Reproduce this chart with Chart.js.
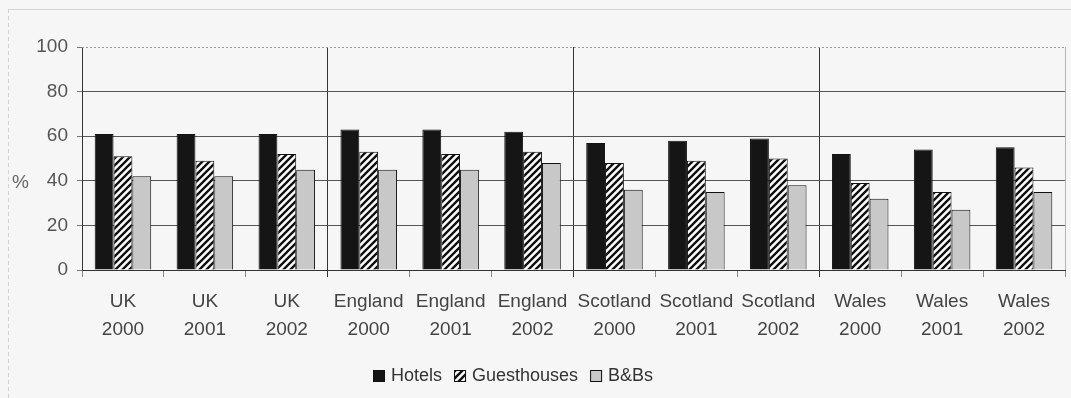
<!DOCTYPE html>
<html>
<head>
<meta charset="utf-8">
<title>Occupancy by accommodation type</title>
<script src="https://cdn.jsdelivr.net/npm/chart.js@4/dist/chart.umd.min.js"></script>
<style>
    html, body { margin: 0; padding: 0; background: #f6f6f6; }
    #wrap { width: 1071px; height: 398px; }
</style>
</head>
<body>
<div id="wrap"><canvas id="occupancyChart" width="1071" height="398"></canvas></div>
<script>
// 類別（地區 + 年份）
const categories = [
    ['UK', '2000'], ['UK', '2001'], ['UK', '2002'],
    ['England', '2000'], ['England', '2001'], ['England', '2002'],
    ['Scotland', '2000'], ['Scotland', '2001'], ['Scotland', '2002'],
    ['Wales', '2000'], ['Wales', '2001'], ['Wales', '2002']
];

// 入住率 (%)
const hotels      = [61, 61, 61, 63, 63, 62, 57, 58, 59, 52, 54, 55];
const guesthouses = [51, 49, 52, 53, 52, 53, 48, 49, 50, 39, 35, 46];
const bnbs        = [42, 42, 45, 45, 45, 48, 36, 35, 38, 32, 27, 35];

const yTicks = [0, 20, 40, 60, 80, 100];
const seriesNames = ['Hotels', 'Guesthouses', 'B&Bs'];

const FONT = '"Liberation Sans", Arial, sans-serif';

// 斜線填充
function makeHatch() {
    const size = 7;
    const c = document.createElement('canvas');
    c.width = size;
    c.height = size;
    const g = c.getContext('2d');
    g.fillStyle = '#ffffff';
    g.fillRect(0, 0, size, size);
    g.strokeStyle = '#111111';
    g.lineWidth = 2.4;
    g.beginPath();
    g.moveTo(-1, size + 1);
    g.lineTo(size + 1, -1);
    g.moveTo(-1, 1);
    g.lineTo(1, -1);
    g.moveTo(size - 1, size + 1);
    g.lineTo(size + 1, size - 1);
    g.stroke();
    return g.createPattern(c, 'repeat');
}

const hatch = makeHatch();
const fills = ['#151515', hatch, '#c8c8c8'];

// 背景、外框、頂線、% 標籤與圖例
const decorPlugin = {
    id: 'decor',
    beforeDraw(chart) {
        const ctx = chart.ctx;
        ctx.save();
        ctx.fillStyle = '#f6f6f6';
        ctx.fillRect(0, 0, chart.width, chart.height);
        ctx.strokeStyle = '#d2d2d2';
        ctx.lineWidth = 1;
        ctx.beginPath();
        ctx.moveTo(8, 9.5);
        ctx.lineTo(chart.width, 9.5);
        ctx.stroke();
        ctx.setLineDash([4, 3]);
        ctx.beginPath();
        ctx.moveTo(8.5, 9);
        ctx.lineTo(8.5, chart.height);
        ctx.stroke();
        ctx.restore();
    },
    afterDraw(chart) {
        const ctx = chart.ctx;
        const a = chart.chartArea;
        ctx.save();

        // 100 的虛線與右側邊線
        ctx.strokeStyle = '#9a9a9a';
        ctx.lineWidth = 1;
        ctx.setLineDash([2, 2]);
        ctx.beginPath();
        ctx.moveTo(a.left, Math.round(a.top) + 0.5);
        ctx.lineTo(a.right, Math.round(a.top) + 0.5);
        ctx.stroke();
        ctx.setLineDash([]);
        ctx.strokeStyle = '#b5b5b5';
        ctx.beginPath();
        ctx.moveTo(Math.round(a.right) + 0.5, a.top);
        ctx.lineTo(Math.round(a.right) + 0.5, a.bottom);
        ctx.stroke();

        // 縱軸單位
        ctx.fillStyle = '#666';
        ctx.font = '19px ' + FONT;
        ctx.textBaseline = 'middle';
        ctx.fillText('%', 12, 183);

        // 圖例
        ctx.font = '18px ' + FONT;
        let x = 373;
        const y = 376;
        const box = 12;
        seriesNames.forEach((name, i) => {
            ctx.fillStyle = fills[i];
            ctx.fillRect(x, y - box / 2, box, box);
            ctx.strokeStyle = '#111';
            ctx.lineWidth = 1;
            ctx.strokeRect(x + 0.5, y - box / 2 + 0.5, box - 1, box - 1);
            x += box + 6;
            ctx.fillStyle = '#333';
            ctx.fillText(name, x, y);
            x += ctx.measureText(name).width + 12;
        });
        ctx.restore();
    }
};

const ctx = document.getElementById('occupancyChart').getContext('2d');

new Chart(ctx, {
    type: 'bar',
    data: {
        labels: categories,
        datasets: [hotels, guesthouses, bnbs].map((values, i) => ({
            label: seriesNames[i],
            data: values,
            backgroundColor: fills[i],
            borderColor: '#111',
            borderWidth: 1,
            borderSkipped: 'bottom',
            categoryPercentage: 0.69,
            barPercentage: 1.0
        }))
    },
    options: {
        responsive: false,
        animation: false,
        devicePixelRatio: 1,
        layout: {
            padding: { left: 10, right: 6, top: 47, bottom: 38 }
        },
        plugins: {
            legend: { display: false },
            tooltip: { enabled: false }
        },
        scales: {
            x: {
                offset: true,
                afterFit(scale) { scale.height = 90; },
                grid: {
                    offset: true,
                    drawOnChartArea: true,
                    tickLength: 7,
                    color(c) {
                        return (c.index === 3 || c.index === 6 || c.index === 9) ? '#333' : 'rgba(0,0,0,0)';
                    },
                    tickColor(c) {
                        return (c.index === 3 || c.index === 6 || c.index === 9) ? '#333' : '#888';
                    }
                },
                border: { display: true, color: '#333', width: 1 },
                ticks: {
                    autoSkip: false,
                    maxRotation: 0,
                    padding: 11,
                    color: '#444',
                    font: { family: FONT, size: 19, lineHeight: 1.47 }
                }
            },
            y: {
                min: 0,
                max: 100,
                afterFit(scale) { scale.width = 72; },
                afterBuildTicks(scale) {
                    scale.ticks = yTicks.map(v => ({ value: v }));
                },
                grid: {
                    tickLength: 5,
                    color(c) {
                        return c.tick && c.tick.value === 100 ? 'rgba(0,0,0,0)' : '#555';
                    },
                    tickColor: '#777'
                },
                border: { display: true, color: '#333', width: 1 },
                ticks: {
                    padding: 9,
                    color: '#555',
                    font: { family: FONT, size: 19 }
                }
            }
        }
    },
    plugins: [decorPlugin]
});
</script>
</body>
</html>
